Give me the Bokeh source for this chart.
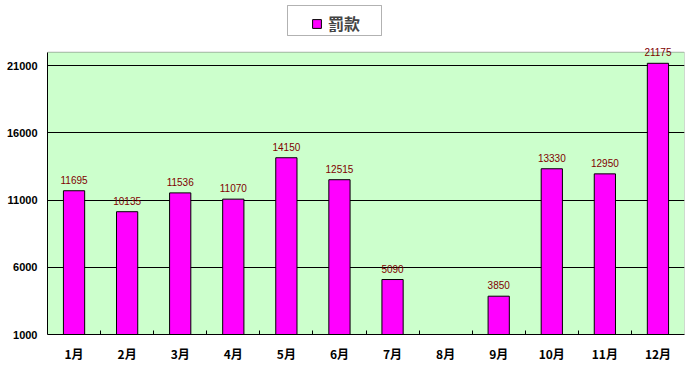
from bokeh.plotting import figure
from bokeh.models import (ColumnDataSource, FixedTicker, Range1d, Legend, LegendItem,
                          BoxAnnotation)
from bokeh.embed import file_html
from bokeh.resources import INLINE
from bokeh.core.properties import value

# Monthly fines
months = ["1月", "2月", "3月", "4月", "5月", "6月", "7月", "8月", "9月", "10月", "11月", "12月"]
fines = [11695, 10135, 11536, 11070, 14150, 12515, 5090, None, 3850, 13330, 12950, 21175]
y_ticks = [1000, 6000, 11000, 16000, 21000]
series_name = "罰款"

Y_MIN, Y_MAX = 1000, 22000      # value range of the plotting box
Y_VIEW_TOP = 25550              # extra headroom above the box for the legend and top label

xs = [i + 0.5 for i in range(len(months))]
tops = [float("nan") if v is None else v for v in fines]
src = ColumnDataSource(dict(x=xs, top=tops))

lab_x = [x for x, v in zip(xs, fines) if v is not None]
lab_y = [v for v in fines if v is not None]
lab_src = ColumnDataSource(dict(x=lab_x, y=lab_y, t=[str(v) for v in lab_y]))

p = figure(width=688, height=365, output_backend="svg", toolbar_location=None,
           x_range=Range1d(0, len(months)), y_range=Range1d(Y_MIN, Y_VIEW_TOP),
           min_border_left=47, min_border_right=4, min_border_top=4, min_border_bottom=31)
p.background_fill_color = "white"
p.border_fill_color = "white"
p.outline_line_color = None

# green plotting box with black border
p.add_layout(BoxAnnotation(left=0, right=len(months), bottom=Y_MIN, top=Y_MAX,
                           fill_color="#CCFFCC", fill_alpha=1, line_color=None,
                           level="image"))

bars = p.vbar(x="x", top="top", bottom=Y_MIN, width=0.4, source=src,
              fill_color="#FF00FF", line_color="black", line_width=1)

p.add_layout(BoxAnnotation(left=0, right=len(months), bottom=Y_MIN, top=Y_MAX,
                           fill_alpha=0, line_color="black", line_width=1))

p.text(x="x", y="y", text="t", source=lab_src, text_align="center",
       text_baseline="bottom", y_offset=-7, text_color="#800000",
       text_font=value("Liberation Sans"), text_font_size="10px")

# x axis: month names centred in each slot, small ticks between slots
p.xaxis.ticker = FixedTicker(ticks=xs, minor_ticks=list(range(1, len(months))))
p.xaxis.major_label_overrides = {x: m for x, m in zip(xs, months)}
p.xaxis.major_tick_in = 0
p.xaxis.major_tick_out = 0
p.xaxis.minor_tick_in = 4
p.xaxis.minor_tick_out = 0
p.xaxis.axis_line_color = "black"
p.xaxis.major_label_standoff = 10
p.xaxis.major_label_text_font = "Noto Sans CJK TC"
p.xaxis.major_label_text_font_style = "bold"
p.xaxis.major_label_text_font_size = "12px"
p.xaxis.major_label_text_color = "black"
p.xgrid.grid_line_color = None

p.yaxis.ticker = FixedTicker(ticks=y_ticks)
p.yaxis.bounds = (Y_MIN, Y_MAX)
p.yaxis.major_tick_in = 0
p.yaxis.major_tick_out = 0
p.yaxis.minor_tick_in = 0
p.yaxis.minor_tick_out = 0
p.yaxis.major_label_standoff = 10
p.yaxis.major_label_text_font = "Liberation Sans"
p.yaxis.major_label_text_font_style = "bold"
p.yaxis.major_label_text_font_size = "11px"
p.yaxis.major_label_text_color = "black"
p.ygrid.grid_line_color = "black"
p.ygrid.grid_line_width = 1

# legend frame above the plotting box
p.add_layout(BoxAnnotation(left=287, right=381, top=5, bottom=35,
                           left_units="canvas", right_units="canvas",
                           top_units="canvas", bottom_units="canvas",
                           fill_color="white", fill_alpha=1,
                           line_color="black", line_width=1))

legend = Legend(items=[LegendItem(label=series_name, renderers=[bars])],
                location=(264, 299), padding=5, glyph_width=11, glyph_height=11,
                label_height=20, label_standoff=6, border_line_color=None,
                background_fill_alpha=0, label_text_font="Noto Sans CJK TC",
                label_text_font_style="bold", label_text_font_size="16px")
p.add_layout(legend, "center")

open("out.html", "w").write(file_html(p, INLINE))
